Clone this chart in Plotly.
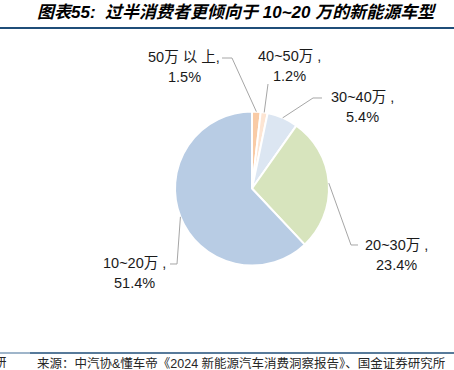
import math
import plotly.graph_objects as go

W, H = 454, 370

categories = ["50万以上", "40~50万", "30~40万", "20~30万", "10~20万"]
values = [1.5, 1.2, 5.4, 23.4, 51.4]
value_labels = ["1.5%", "1.2%", "5.4%", "23.4%", "51.4%"]
colors = ["#F9CBA6", "#FDE5D3", "#DCE6F2", "#D7E4BD", "#B8CCE4"]

title_text = "图表55:  过半消费者更倾向于 10~20 万的新能源车型"
source_text = "来源：中汽协&懂车帝《2024 新能源汽车消费洞察报告》、国金证券研究所"

# pie geometry (pixels)
CX, CY, R = 252, 188.5, 77

def px(x):
    return x / W

def py(y):
    return 1 - y / H

# label layout (pixels): (elbow points after slice edge, label center x, first line y)
label_layout = [
    {"pts": [(232, 58), (222, 58)], "cx": 184, "y": 57, "cat": "50万 以 上,"},
    {"pts": [(268, 84)], "cx": 289, "y": 56, "cat": "40~50万 ,"},
    {"pts": [(313, 98), (322, 98)], "cx": 362, "y": 97, "cat": "30~40万 ,"},
    {"pts": [(351, 245), (358, 245)], "cx": 396, "y": 245, "cat": "20~30万 ,"},
    {"pts": [(177, 264), (170, 264)], "cx": 134, "y": 263, "cat": "10~20万 ,"},
]

fig = go.Figure()
fig.add_trace(go.Pie(
    labels=categories,
    values=values,
    sort=False,
    direction="clockwise",
    rotation=0,
    textinfo="none",
    hoverinfo="label+value",
    marker=dict(colors=colors, line=dict(color="white", width=2)),
    domain=dict(x=[px(CX - R), px(CX + R)], y=[py(CY + R), py(CY - R)]),
    showlegend=False,
))

total = sum(values)
shapes = []
annotations = []
cum = 0.0
font_family = "Arial, 'Liberation Sans', 'Noto Sans CJK SC', sans-serif"
for v, vl, lay in zip(values, value_labels, label_layout):
    mid = (cum + v / 2) / total * 2 * math.pi
    cum += v
    sx = CX + R * math.sin(mid)
    sy = CY - R * math.cos(mid)
    pts = [(sx, sy)] + lay["pts"]
    path = "M " + " L ".join(f"{px(x):.5f},{py(y):.5f}" for x, y in pts)
    shapes.append(dict(type="path", path=path, xref="paper", yref="paper",
                       line=dict(color="#A6A6A6", width=1)))
    annotations.append(dict(text=lay["cat"], x=px(lay["cx"]), y=py(lay["y"]),
                            xref="paper", yref="paper", showarrow=False,
                            xanchor="center", yanchor="middle",
                            font=dict(size=14.5, color="#1a1a1a", family=font_family)))
    annotations.append(dict(text=vl, x=px(lay["cx"]), y=py(lay["y"] + 20),
                            xref="paper", yref="paper", showarrow=False,
                            xanchor="center", yanchor="middle",
                            font=dict(size=14.5, color="#1a1a1a", family=font_family)))

# title and source
annotations.append(dict(text=f"<b><i>{title_text}</i></b>", x=px(35), y=py(13),
                        xref="paper", yref="paper", showarrow=False,
                        xanchor="left", yanchor="middle",
                        font=dict(size=17, color="#000000", family=font_family)))
annotations.append(dict(text=source_text, x=px(35), y=py(363),
                        xref="paper", yref="paper", showarrow=False,
                        xanchor="left", yanchor="middle",
                        font=dict(size=12.5, color="#262626", family=font_family)))
annotations.append(dict(text="研", x=px(9), y=py(363),
                        xref="paper", yref="paper", showarrow=False,
                        xanchor="right", yanchor="middle",
                        font=dict(size=12.5, color="#262626", family=font_family)))

# rules
shapes.append(dict(type="line", xref="paper", yref="paper", x0=0, x1=1,
                   y0=py(28), y1=py(28), line=dict(color="#1F4E79", width=2)))
shapes.append(dict(type="line", xref="paper", yref="paper", x0=0, x1=px(30),
                   y0=py(353), y1=py(353), line=dict(color="#7F9DB9", width=1.5)))
shapes.append(dict(type="line", xref="paper", yref="paper", x0=px(30), x1=1,
                   y0=py(353), y1=py(353), line=dict(color="#1F4E79", width=1.5)))

fig.update_layout(
    width=W, height=H,
    margin=dict(l=0, r=0, t=0, b=0),
    paper_bgcolor="white", plot_bgcolor="white",
    shapes=shapes, annotations=annotations,
)

fig.write_html("out.html", config={"displayModeBar": False},
               post_script="document.body.style.margin='0';document.body.style.overflow='hidden';")
